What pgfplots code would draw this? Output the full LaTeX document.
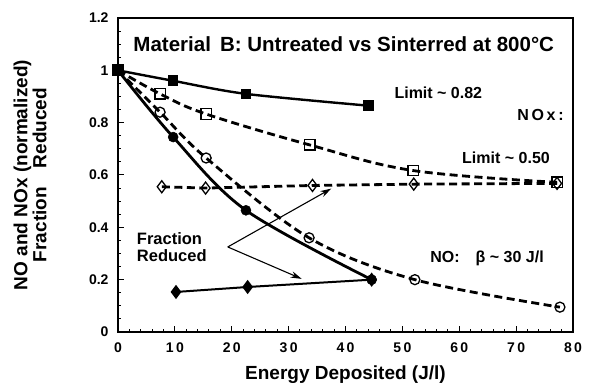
\documentclass[border=0pt]{standalone}
\usepackage{pgfplots}
\pgfplotsset{compat=1.18}
\usepackage{fontspec}
\setmainfont{Liberation Sans}
\usetikzlibrary{arrows.meta}
\newcommand{\fs}[1]{\fontsize{#1}{#1}\selectfont\bfseries}
\begin{document}
\begin{tikzpicture}
\begin{axis}[
  at={(0,0)}, anchor=south west,
  scale only axis, width=455pt, height=314pt,
  xmin=0, xmax=80, ymin=0, ymax=1.2,
  xtick={0,10,20,30,40,50,60,70,80},
  xticklabels={0,1\,0,2\,0,3\,0,4\,0,5\,0,6\,0,7\,0,8\,0},
  ytick={0,0.2,0.4,0.6,0.8,1,1.2},
  yticklabels={0,0.2,0.4,0.6,0.8,1,1.2},
  minor x tick num=4, minor y tick num=3,
  tick pos=left, tick align=inside,
  major tick length=6pt, minor tick length=3pt,
  axis line style={line width=1.4pt},
  every tick/.style={black, line width=1pt},
  xticklabel style={font=\fs{14}, yshift=-7pt},
  yticklabel style={font=\fs{14}, xshift=-6pt},
  xlabel={Energy Deposited (J/l)},
  xlabel style={font=\fs{19}, at={(axis description cs:0.5,-0.135)}, anchor=center},
  ylabel={NO and NOx (normalized)\\Fraction\quad Reduced},
  ylabel style={font=\fs{19}, align=center, at={(axis description cs:-0.193,0.5)}, anchor=center},
  clip=false,
]
% NOx sintered (filled squares)
\addplot[black, line width=2.4pt, smooth, tension=0.5, mark=square*, mark size=4.8pt, mark options={solid, line width=1pt}]
  coordinates {(0,1) (9.7,0.96) (22.5,0.91) (44,0.865)};
% NOx untreated (open squares)
\addplot[black, line width=2.8pt, dash pattern=on 8pt off 4.5pt, smooth, tension=0.6, mark=square, mark size=5.2pt, mark options={solid, fill=white, line width=1.3pt}]
  coordinates {(0,1) (7.4,0.91) (15.5,0.833) (33.7,0.715) (51.9,0.617) (77.2,0.572)};
% Fraction reduced NOx (open diamonds)
\addplot[black, line width=2.8pt, dash pattern=on 8pt off 4.5pt, mark=diamond, mark size=6pt, mark options={solid, fill=white, line width=1.3pt}]
  coordinates {(7.7,0.555) (15.4,0.55) (34.2,0.56) (52,0.565) (77.2,0.568)};
% NO sintered (filled circles)
\addplot[black, line width=2.8pt, smooth, tension=0.55, mark=*, mark size=5pt, mark options={solid, line width=0.5pt}]
  coordinates {(0,1) (9.7,0.745) (22.5,0.465) (44.6,0.2)};
% NO untreated (open circles)
\addplot[black, line width=2.8pt, dash pattern=on 8pt off 4.5pt, smooth, tension=0.55, mark=o, mark size=5pt, mark options={solid, fill=white, line width=1.3pt}]
  coordinates {(0,1) (7.4,0.84) (15.5,0.665) (33.6,0.36) (52.2,0.2) (77.7,0.095)};
% Fraction reduced NO (filled diamonds)
\addplot[black, line width=2pt, mark=diamond*, mark size=5.5pt, mark options={solid}]
  coordinates {(10.2,0.153) (22.8,0.172) (44.6,0.2)};
% annotations
\node[font=\fs{20.5}] at (axis cs:39.7,1.10) {Material\, B: Untreated vs Sinterred at 800°C};
\node[font=\fs{16}, anchor=west] at (axis cs:48.0,0.913) {Limit \textasciitilde\ 0.82};
\node[font=\fs{16}, anchor=west] at (axis cs:69.6,0.83) {N\,O\,x\,:};
\node[font=\fs{16}, anchor=west] at (axis cs:59.9,0.665) {Limit \textasciitilde\ 0.50};
\node[font=\fs{16}, anchor=west] at (axis cs:54.3,0.283) {NO:\quad β \textasciitilde\ 30 J/l};
\node[font=\fs{16.5}, align=left, anchor=west, inner sep=0pt] at (axis cs:3.3,0.325) {Fraction\\Reduced};
\draw[line width=1.1pt, -{Stealth[length=11pt,width=6.5pt]}] (axis cs:19.3,0.325) -- (axis cs:37.5,0.548);
\draw[line width=1.1pt, -{Stealth[length=11pt,width=6.5pt]}] (axis cs:19.3,0.325) -- (axis cs:32.3,0.203);
\end{axis}
\pgfresetboundingbox
\path[use as bounding box] (-118pt,-53pt) rectangle (471pt,332pt);
\end{tikzpicture}
\end{document}
